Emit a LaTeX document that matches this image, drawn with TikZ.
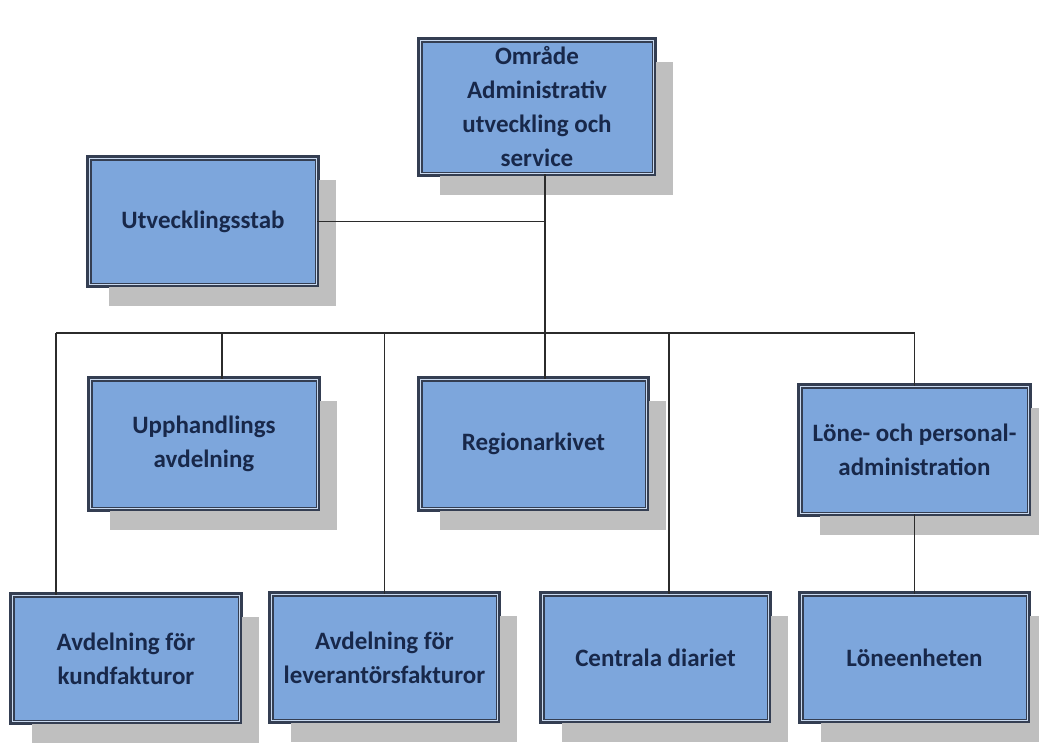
\documentclass[tikz,border=0pt]{standalone}
\usepackage{fontspec}
\setmainfont{Carlito}
\usetikzlibrary{shadows}
\definecolor{boxfill}{HTML}{7DA6DC}
\definecolor{boxedge}{HTML}{343E52}
\definecolor{boxgap}{HTML}{C9D9EF}
\definecolor{boxtext}{HTML}{18284A}
\definecolor{shadowgray}{HTML}{BFBFBF}
\definecolor{wire}{HTML}{2B2B2B}
\begin{document}
\begin{tikzpicture}[x=1pt,y=-1pt,
  unit/.style={rectangle, fill=boxfill, draw=boxedge, line width=1.5pt,
    double=boxgap, double distance=1pt, text=boxtext, align=center,
    preaction={draw=boxedge, line width=7pt},
    inner sep=2pt, font=\fontsize{25}{34}\selectfont\bfseries,
    drop shadow={shadow xshift=19pt, shadow yshift=-21pt, fill=shadowgray, opacity=1}},
  wire/.style={draw=wire, line width=1.8pt}]
\useasboundingbox (0,0) rectangle (1039,744);

% boxes (centre, outer size less the border)
\node[unit, minimum width=233pt, minimum height=133pt] (top) at (537,107)
  {Område\\Administrativ\\utveckling och\\service};
\node[unit, minimum width=227pt, minimum height=126pt] (utv) at (203,221.5) {Utvecklingsstab};
\node[unit, minimum width=227pt, minimum height=129pt] (upph) at (204,444) {Upphandlings\\avdelning};
\node[unit, minimum width=226pt, minimum height=129pt] (reg) at (533.5,444) {Regionarkivet};
\node[unit, minimum width=228pt, minimum height=127pt] (lone) at (914.5,450) {Löne- och personal-\\administration};
\node[unit, minimum width=227pt, minimum height=126pt] (kund) at (126,658.5) {Avdelning för\\kundfakturor};
\node[unit, minimum width=226pt, minimum height=126pt] (lev) at (384.5,657.5) {Avdelning för\\leverantörsfakturor};
\node[unit, minimum width=226pt, minimum height=126pt] (cen) at (655.5,657.5) {Centrala diariet};
\node[unit, minimum width=226pt, minimum height=126pt] (lenh) at (914.5,657.5) {Löneenheten};

% drop points on the horizontal bus
\coordinate (hub) at (545,333);
\coordinate (d1) at (56,333);
\coordinate (d2) at (222,333);
\coordinate (d3) at (384.5,333);
\coordinate (d5) at (669,333);
\coordinate (d6) at (914.5,333);

% connectors
\draw[wire] (hub |- top.south) -- (hub);
\draw[wire] (utv.east) -- (utv.east -| hub);
\draw[wire] (d1) -- (d6);
\draw[wire] (d1) -- (d1 |- kund.north);
\draw[wire] (d2) -- (d2 |- upph.north);
\draw[wire] (d3) -- (d3 |- lev.north);
\draw[wire] (hub) -- (hub |- reg.north);
\draw[wire] (d5) -- (d5 |- cen.north);
\draw[wire] (d6) -- (lone.north);
\draw[wire] (lone.south) -- (lenh.north);
\end{tikzpicture}
\end{document}
